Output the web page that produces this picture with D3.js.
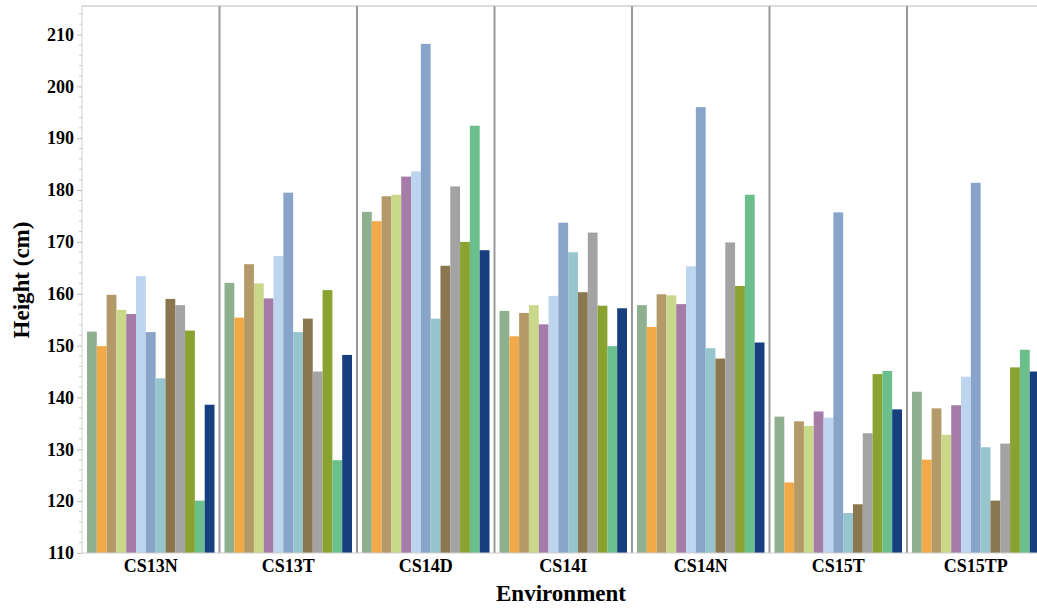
<!DOCTYPE html>
<html>
<head>
<meta charset="utf-8">
<script src="https://cdn.jsdelivr.net/npm/d3@7"></script>
<style>
  body { margin: 0; background: #fff; }
  text { font-family: "Liberation Serif", "Times New Roman", serif; font-weight: bold; fill: #000; }
</style>
</head>
<body>
<div id="chart"></div>
<script>
// environments on the x axis
const environments = ['CS13N', 'CS13T', 'CS14D', 'CS14I', 'CS14N', 'CS15T', 'CS15TP'];

// one value per bar, 13 bars per environment
const cs13n  = [152.7, 149.9, 159.8, 156.9, 156.1, 163.4, 152.6, 143.7, 159.0, 157.8, 152.9, 120.1, 138.6];
const cs13t  = [162.1, 155.4, 165.7, 162.0, 159.1, 167.3, 179.5, 152.6, 155.2, 145.0, 160.7, 127.9, 148.2];
const cs14d  = [175.8, 174.0, 178.8, 179.1, 182.6, 183.6, 208.2, 155.2, 165.4, 180.7, 170.0, 192.4, 168.4];
const cs14i  = [156.7, 151.8, 156.3, 157.8, 154.1, 159.6, 173.7, 168.0, 160.3, 171.8, 157.7, 149.9, 157.2];
const cs14n  = [157.8, 153.6, 159.9, 159.7, 158.0, 165.3, 196.0, 149.5, 147.5, 169.9, 161.5, 179.1, 150.6];
const cs15t  = [136.3, 123.6, 135.4, 134.5, 137.3, 136.1, 175.7, 117.7, 119.4, 133.1, 144.5, 145.1, 137.7];
const cs15tp = [141.1, 128.0, 137.9, 132.8, 138.5, 144.0, 181.4, 130.4, 120.1, 131.1, 145.8, 149.2, 145.0];

const yTicks = [110, 120, 130, 140, 150, 160, 170, 180, 190, 200, 210];

const colors = ['#8fb08e', '#f2aa48', '#b39a68', '#cad88a', '#a57ba8', '#bdd5ef', '#88a5c9',
                '#97c5cd', '#8a7750', '#a3a3a3', '#8aa230', '#6abf8c', '#173f80'];

const series = [cs13n, cs13t, cs14d, cs14i, cs14n, cs15t, cs15tp];
const rows = environments.map((env, i) => ({ env: env, values: series[i] }));

const width = 1037;
const height = 608;

const svg = d3.select('#chart')
  .append('svg')
  .attr('width', width)
  .attr('height', height);

const x = d3.scaleBand()
  .domain(environments)
  .range([82, 1044.5])
  .padding(0);

const xInner = d3.scaleBand()
  .domain(d3.range(13))
  .range([5, x.bandwidth() - 5])
  .padding(0);

const y = d3.scaleLinear()
  .domain([110, 215.5])
  .range([553, 6]);

// top border
svg.append('line')
  .attr('x1', 82).attr('x2', width)
  .attr('y1', 6).attr('y2', 6)
  .attr('stroke', '#dcdcdc')
  .attr('stroke-width', 2);

// bars
const groups = svg.selectAll('g.env')
  .data(rows).enter()
  .append('g')
  .attr('class', 'env')
  .attr('transform', d => `translate(${x(d.env)},0)`);

groups.selectAll('rect')
  .data(d => d.values).enter()
  .append('rect')
  .attr('x', (d, i) => xInner(i))
  .attr('width', xInner.bandwidth())
  .attr('y', d => y(d))
  .attr('height', d => y(110) - y(d))
  .attr('fill', (d, i) => colors[i]);

// dividers between environments
svg.selectAll('line.divider')
  .data(environments.slice(1)).enter()
  .append('line')
  .attr('class', 'divider')
  .attr('x1', d => x(d)).attr('x2', d => x(d))
  .attr('y1', 6).attr('y2', 553)
  .attr('stroke', '#999')
  .attr('stroke-width', 2);

// y axis
const yAxis = d3.axisLeft(y)
  .tickValues(yTicks)
  .tickSize(5)
  .tickPadding(3);

const yg = svg.append('g')
  .attr('transform', 'translate(82,0)')
  .call(yAxis);
yg.select('.domain').attr('stroke', '#cfcfcf').attr('d', `M0,6V553`);
yg.selectAll('.tick line').attr('stroke', '#bbb');
yg.selectAll('.tick text').style('font-size', '18px');

// minor ticks every 2 cm
svg.append('g')
  .selectAll('line')
  .data(d3.range(110, 216, 2).filter(v => v % 10 !== 0)).enter()
  .append('line')
  .attr('x1', 79).attr('x2', 82)
  .attr('y1', d => y(d)).attr('y2', d => y(d))
  .attr('stroke', '#ccc');

// x axis
const xAxis = d3.axisBottom(x).tickSize(0).tickPadding(6);
const xg = svg.append('g')
  .attr('transform', 'translate(0,553)')
  .call(xAxis);
xg.select('.domain').attr('stroke', '#cfcfcf').attr('d', `M82,0H${width}`);
xg.selectAll('.tick text').style('font-size', '18px');

// axis titles
svg.append('text')
  .attr('x', 561)
  .attr('y', 601)
  .attr('text-anchor', 'middle')
  .style('font-size', '23px')
  .text('Environment');

svg.append('text')
  .attr('transform', 'translate(29,280) rotate(-90)')
  .attr('text-anchor', 'middle')
  .style('font-size', '23px')
  .text('Height (cm)');
</script>
</body>
</html>
